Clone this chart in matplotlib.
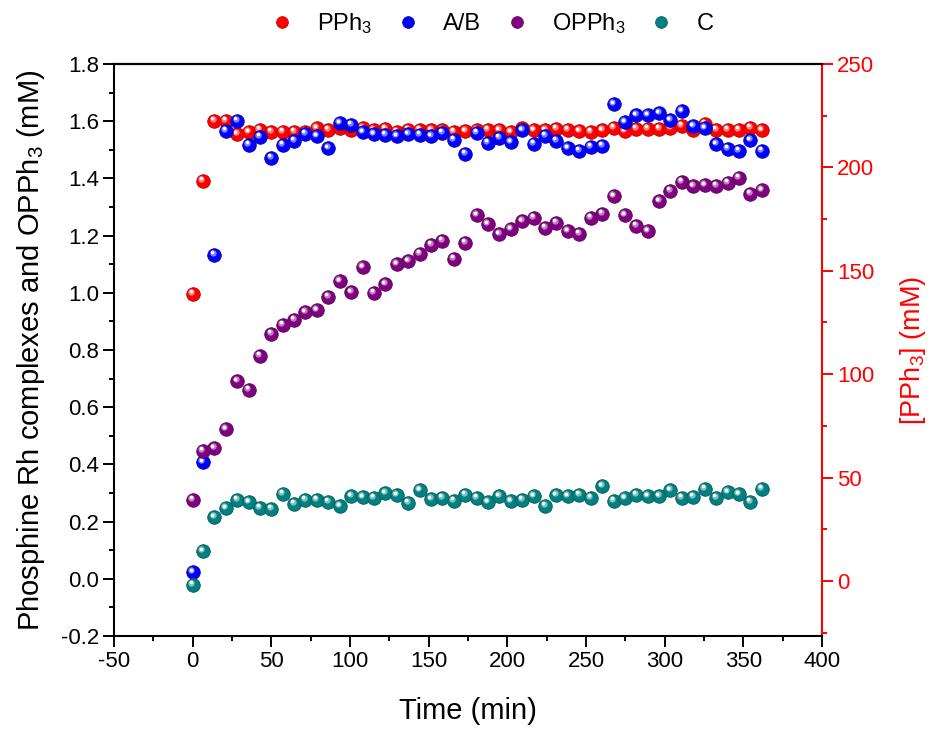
# coding: utf-8
import numpy as np
import matplotlib
matplotlib.use('Agg')
import matplotlib.pyplot as plt
from matplotlib.lines import Line2D
from matplotlib.transforms import offset_copy
from matplotlib.ticker import MultipleLocator, FormatStrFormatter
from matplotlib.colors import to_rgb

plt.rcParams['font.family'] = ['Liberation Sans', 'DejaVu Sans']
plt.rcParams['axes.unicode_minus'] = False
plt.rcParams['mathtext.fontset'] = 'custom'
plt.rcParams['mathtext.rm'] = 'Liberation Sans'
plt.rcParams['mathtext.it'] = 'Liberation Sans'
plt.rcParams['mathtext.default'] = 'regular'

# sampling times (min)
time = [0, 6.5, 13.7, 21.0, 28.2, 35.5, 42.7, 50.0, 57.2, 64.5, 71.7, 79.0, 86.2,
        93.5, 100.7, 108.0, 115.2, 122.5, 129.7, 137.0, 144.2, 151.5, 158.7, 166.0,
        173.2, 180.5, 187.7, 195.0, 202.2, 209.5, 216.7, 224.0, 231.2, 238.5, 245.7,
        253.0, 260.2, 267.5, 274.7, 282.0, 289.2, 296.5, 303.7, 311.0, 318.2, 325.5,
        332.7, 340.0, 347.2, 354.5, 361.7]

# [PPh3] (mM), right axis
pph3 = [138.8, 193.5, 222.5, 222.5, 216.0, 217.0, 218.2, 217.3, 217.3, 217.3, 217.3,
        218.9, 218.2, 219.2, 218.2, 218.9, 217.9, 218.6, 217.3, 218.2, 218.2, 217.9,
        217.9, 217.3, 217.6, 217.9, 218.2, 217.9, 216.9, 218.9, 217.9, 217.9, 218.6,
        218.2, 217.6, 217.3, 217.9, 219.2, 217.6, 218.6, 218.6, 218.6, 219.2, 220.1,
        218.2, 221.1, 218.2, 218.2, 218.2, 219.2, 217.9]

# A/B (mM)
ab = [0.022, 0.407, 1.133, 1.566, 1.601, 1.517, 1.545, 1.472, 1.517, 1.531, 1.557,
      1.547, 1.505, 1.592, 1.587, 1.561, 1.554, 1.552, 1.547, 1.554, 1.552, 1.547,
      1.559, 1.536, 1.487, 1.559, 1.524, 1.543, 1.526, 1.568, 1.522, 1.550, 1.531,
      1.505, 1.496, 1.511, 1.515, 1.660, 1.596, 1.620, 1.620, 1.627, 1.604, 1.634,
      1.582, 1.575, 1.519, 1.503, 1.496, 1.534, 1.496]

# OPPh3 (mM)
opph3 = [0.277, 0.448, 0.457, 0.523, 0.691, 0.661, 0.780, 0.857, 0.889, 0.905, 0.932,
         0.939, 0.987, 1.041, 1.002, 1.089, 1.000, 1.030, 1.099, 1.110, 1.137, 1.168,
         1.182, 1.119, 1.175, 1.271, 1.239, 1.204, 1.222, 1.250, 1.263, 1.227, 1.245,
         1.215, 1.206, 1.263, 1.276, 1.338, 1.271, 1.234, 1.215, 1.320, 1.357, 1.388,
         1.372, 1.376, 1.374, 1.385, 1.402, 1.347, 1.358]

# C (mM)
c = [-0.020, 0.096, 0.215, 0.247, 0.277, 0.268, 0.248, 0.245, 0.298, 0.263, 0.277,
     0.277, 0.269, 0.254, 0.288, 0.285, 0.283, 0.299, 0.292, 0.266, 0.309, 0.278,
     0.284, 0.273, 0.294, 0.283, 0.267, 0.289, 0.271, 0.277, 0.289, 0.256, 0.292,
     0.288, 0.294, 0.284, 0.323, 0.273, 0.281, 0.294, 0.289, 0.289, 0.309, 0.284,
     0.287, 0.315, 0.284, 0.302, 0.295, 0.270, 0.315]

colors = {'PPh3': '#ff0000', 'AB': '#0000ff', 'OPPh3': '#800080', 'C': '#008080'}


def mix(col, f):
    # blend a colour towards white
    r, g, b = to_rgb(col)
    return (r + (1 - r) * f, g + (1 - g) * f, b + (1 - b) * f)


def balls(ax, x, y, col, s=95, z=3):
    # Origin style shaded spheres
    dark = tuple(v * 0.7 for v in to_rgb(col))
    ax.scatter(x, y, s=s, color=col, edgecolors=dark, linewidths=0.6, zorder=z)
    tr = offset_copy(ax.transData, fig=ax.figure, x=-1.5, y=2.0, units='dots')
    ax.scatter(x, y, s=s * 0.22, color=mix(col, 0.5), linewidths=0, zorder=z + 0.1,
               transform=tr)
    tr2 = offset_copy(ax.transData, fig=ax.figure, x=-2.0, y=2.5, units='dots')
    ax.scatter(x, y, s=s * 0.07, color='white', linewidths=0, zorder=z + 0.2,
               transform=tr2)


fig = plt.figure(figsize=(9.33, 7.29), dpi=100)
ax = fig.add_axes([0.1222, 0.1276, 0.7588, 0.7846])
ax2 = ax.twinx()
ax.set_zorder(ax2.get_zorder() + 1)
ax.patch.set_visible(False)

balls(ax2, time, pph3, colors['PPh3'])
balls(ax, time, ab, colors['AB'], z=3)
balls(ax, time, opph3, colors['OPPh3'], z=4)
balls(ax, time, c, colors['C'], z=5)

ax.set_xlim(-50, 400)
ax.set_ylim(-0.2, 1.8)
ax2.set_ylim(-26.6, 250)

ax.xaxis.set_major_locator(MultipleLocator(50))
ax.xaxis.set_minor_locator(MultipleLocator(25))
ax.yaxis.set_major_locator(MultipleLocator(0.2))
ax.yaxis.set_minor_locator(MultipleLocator(0.1))
ax.yaxis.set_major_formatter(FormatStrFormatter('%.1f'))
ax2.yaxis.set_major_locator(MultipleLocator(50))
ax2.yaxis.set_minor_locator(MultipleLocator(25))

for a in (ax, ax2):
    for sp in a.spines.values():
        sp.set_linewidth(1.5)
ax.spines['right'].set_visible(False)
ax2.spines['right'].set_color('red')
ax2.spines['left'].set_visible(False)
ax2.spines['bottom'].set_visible(False)

ax.tick_params(which='major', direction='out', length=7.7, width=1.4, labelsize=16,
               pad=3, top=False, right=False)
ax.tick_params(which='minor', direction='out', length=3.6, width=1.4, top=False, right=False)
ax2.tick_params(axis='y', which='major', direction='out', length=7.7, width=1.4,
                labelsize=16, pad=3, colors='red')
ax2.tick_params(axis='y', which='minor', direction='out', length=3.6, width=1.4, colors='red')

ax.set_xlabel('Time (min)', fontsize=21, labelpad=18)
ax.set_ylabel('Phosphine Rh complexes and OPPh$_3$ (mM)', fontsize=21, labelpad=10)
ax2.set_ylabel('[PPh$_3$] (mM)', fontsize=19.5, color='red', labelpad=17)

handles = [Line2D([], [], ls='none', marker='o', ms=8.5, color=colors[k],
                  markeredgecolor=tuple(v * 0.7 for v in to_rgb(colors[k])), mew=0.5)
           for k in ['PPh3', 'AB', 'OPPh3', 'C']]
labels = ['PPh$_3$', 'A/B', 'OPPh$_3$', 'C']
fig.legend(handles, labels, loc='center', bbox_to_anchor=(0.527, 0.968), ncol=4,
           frameon=False, fontsize=17, handlelength=1.0, handletextpad=1.0,
           columnspacing=1.0)

fig.savefig('out.png', dpi=100)
